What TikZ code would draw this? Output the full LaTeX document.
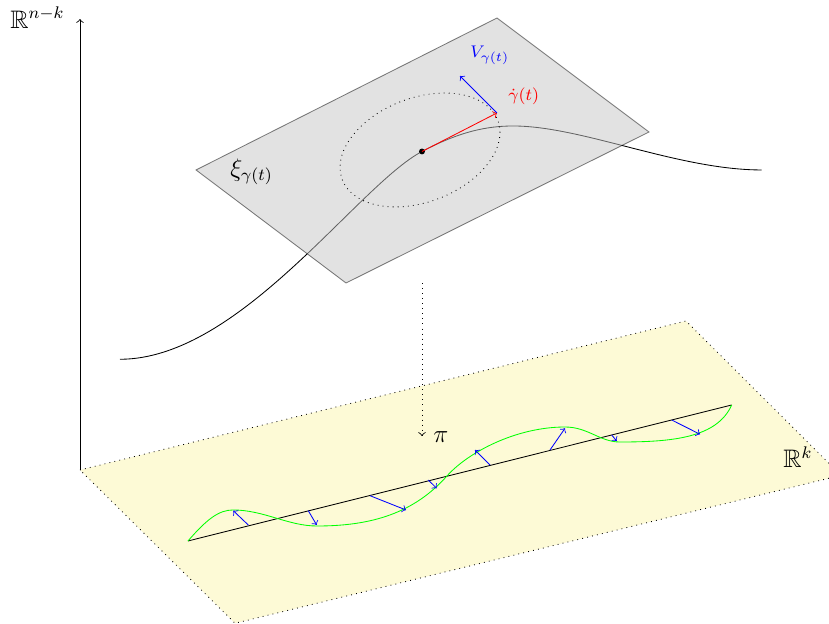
\documentclass[tikz,border=0pt]{standalone}
\usepackage{amssymb}
\definecolor{baseyellow}{RGB}{253,250,214}
\tikzset{label text/.style={anchor=base west, inner sep=0pt}}
\begin{document}
\begin{tikzpicture}
\useasboundingbox (0,0) rectangle (13.817,10.4);
% base plane R^k
\filldraw[fill=baseyellow, dotted] (1.333,2.567) -- (11.433,5.05) -- (14.017,2.478) -- (3.917,0.012) -- cycle;
\node (Rk) [label text] at (13.05,2.6) {\large $\mathbb{R}^k$};
% vertical axis
\draw[->] (1.333,2.567) -- (1.333,10.083);
\node (Rnk) [label text] at (0.167,9.933) {\large $\mathbb{R}^{n-k}$};
% the curve gamma
\draw (2.0,4.412) .. controls (4.0,4.412) and (5.95,7.3) .. (7.033,7.875)
  .. controls (7.65,8.2) and (8.1,8.3) .. (8.555,8.3)
  .. controls (9.7,8.3) and (11.3,7.567) .. (12.695,7.567);
% plane xi
\filldraw[fill=gray!45, draw=black, opacity=0.5] (3.267,7.567) -- (8.283,10.1) -- (10.817,8.2) -- (5.767,5.683) -- cycle;
\node (xi) [label text] at (3.833,7.45) {\large $\xi_{\gamma(t)}$};
\draw[dotted, cm={1.333,0.292,0,0.903,(7.0,7.9)}] (0,0) circle (1);
\coordinate (p) at (7.033,7.875);
\coordinate (tp) at (8.283,8.517);
\coordinate (vp) at (7.667,9.133);
\fill (p) circle (1.4pt);
\draw[->, red] (p) -- (tp);
\draw[->, blue] (tp) -- (vp);
\node (gdot) [label text, red] at (8.467,8.717) {\footnotesize $\dot\gamma(t)$};
\node (V) [label text, blue] at (7.833,9.442) {\footnotesize $V_{\gamma(t)}$};
% projection
\coordinate (pa) at (7.033,5.683);
\coordinate (pb) at (7.033,3.133);
\draw[->, dotted] (pa) -- (pb);
\node (pi) [label text] at (7.217,3.033) {\large $\pi$};
% projected curve
\draw (3.133,1.383) -- (12.195,3.65);
\draw[green] (3.133,1.383) .. controls (3.45,1.75) and (3.65,1.9) .. (3.883,1.9)
  .. controls (4.4,1.9) and (4.8,1.633) .. (5.283,1.633)
  .. controls (6.2,1.633) and (6.9,1.85) .. (7.45,2.467)
  .. controls (7.8,2.86) and (8.6,3.283) .. (9.417,3.283)
  .. controls (9.8,3.283) and (10.0,3.033) .. (10.333,3.033)
  .. controls (11.2,3.033) and (11.95,3.1) .. (12.195,3.65);
\draw[->, blue] (4.138,1.65) -- (3.888,1.888);
\draw[->, blue] (5.138,1.888) -- (5.278,1.65);
\draw[->, blue] (6.167,2.138) -- (6.767,1.9);
\draw[->, blue] (7.138,2.4) -- (7.278,2.262);
\draw[->, blue] (8.167,2.65) -- (7.917,2.9);
\draw[->, blue] (9.167,2.9) -- (9.417,3.262);
\draw[->, blue] (10.195,3.15) -- (10.278,3.05);
\draw[->, blue] (11.195,3.4) -- (11.667,3.162);
\end{tikzpicture}
\end{document}
